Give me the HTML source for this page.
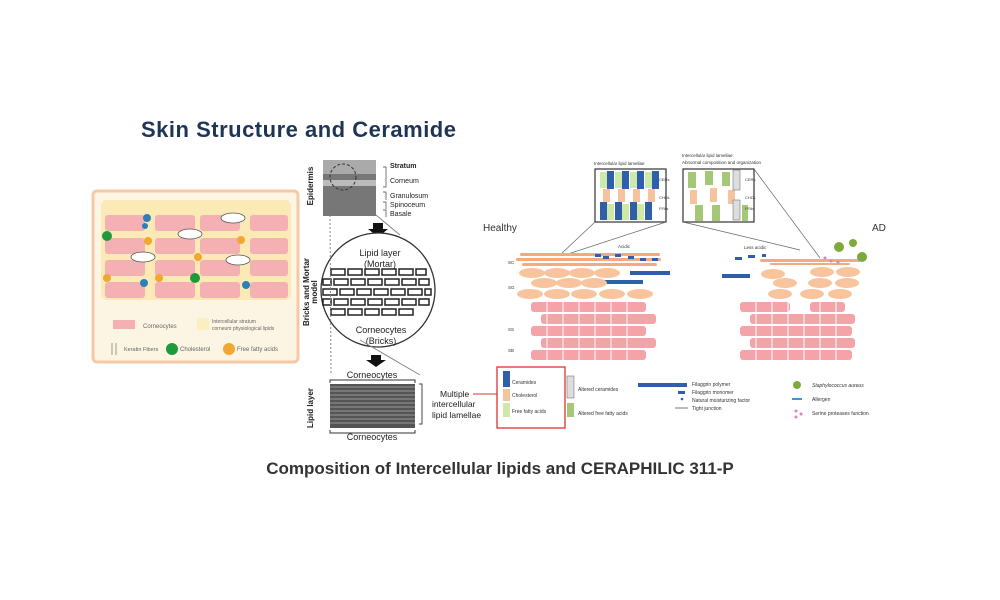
<!DOCTYPE html>
<html><head><meta charset="utf-8"><style>
html,body{margin:0;padding:0;background:#fff}
svg{display:block;font-family:"Liberation Sans",sans-serif}
</style></head><body>
<svg width="1000" height="600" viewBox="0 0 1000 600" xmlns="http://www.w3.org/2000/svg">
<rect width="1000" height="600" fill="#fff"/>
<text x="141" y="137" font-size="22" font-weight="bold" fill="#1f3558" letter-spacing="0.5">Skin Structure and Ceramide</text>
<text x="500" y="474" font-size="17" font-weight="bold" fill="#333" text-anchor="middle">Composition of Intercellular lipids and CERAPHILIC 311-P</text>

<!-- left panel -->
<rect x="93" y="191" width="205" height="171" rx="4" fill="#fdf5e4" stroke="#f6c9a4" stroke-width="3"/>
<rect x="101" y="200" width="190" height="100" rx="6" fill="#fbe9b6"/>
<g fill="#f4b0b3">
<rect x="105" y="215" width="40" height="16" rx="3"/><rect x="155" y="215" width="40" height="16" rx="3"/><rect x="200" y="215" width="40" height="16" rx="3"/><rect x="250" y="215" width="38" height="16" rx="3"/>
<rect x="105" y="238" width="40" height="16" rx="3"/><rect x="155" y="238" width="40" height="16" rx="3"/><rect x="200" y="238" width="40" height="16" rx="3"/><rect x="250" y="238" width="38" height="16" rx="3"/>
<rect x="105" y="260" width="40" height="16" rx="3"/><rect x="155" y="260" width="40" height="16" rx="3"/><rect x="200" y="260" width="40" height="16" rx="3"/><rect x="250" y="260" width="38" height="16" rx="3"/>
<rect x="105" y="282" width="40" height="16" rx="3"/><rect x="155" y="282" width="40" height="16" rx="3"/><rect x="200" y="282" width="40" height="16" rx="3"/><rect x="250" y="282" width="38" height="16" rx="3"/>
</g>
<g fill="#fff" stroke="#555" stroke-width=".8">
<ellipse cx="233" cy="218" rx="12" ry="5"/><ellipse cx="190" cy="234" rx="12" ry="5"/><ellipse cx="143" cy="257" rx="12" ry="5"/><ellipse cx="238" cy="260" rx="12" ry="5"/>
</g>
<g fill="#1e9a3a"><circle cx="107" cy="236" r="5"/><circle cx="195" cy="278" r="5"/></g>
<g fill="#f0a830"><circle cx="148" cy="241" r="4"/><circle cx="241" cy="240" r="4"/><circle cx="198" cy="257" r="4"/><circle cx="107" cy="278" r="4"/><circle cx="159" cy="278" r="4"/></g>
<g fill="#2d7fb8"><circle cx="147" cy="218" r="4"/><circle cx="145" cy="226" r="3"/><circle cx="144" cy="283" r="4"/><circle cx="246" cy="285" r="4"/></g>
<rect x="113" y="320" width="22" height="9" fill="#f4b0b3"/><text x="143" y="328" font-size="6" fill="#666">Corneocytes</text>
<rect x="197" y="318" width="12" height="12" fill="#fbeec0"/><text x="212" y="323" font-size="5" fill="#666">Intercellular stratum</text><text x="212" y="330" font-size="5" fill="#666">corneum physiological lipids</text>
<g stroke="#999"><line x1="112" y1="343" x2="112" y2="355"/><line x1="116" y1="343" x2="116" y2="355"/></g>
<text x="124" y="351" font-size="5.5" fill="#666">Keratin Fibers</text>
<circle cx="172" cy="349" r="6" fill="#1e9a3a"/><text x="180" y="351" font-size="6" fill="#666">Cholesterol</text>
<circle cx="229" cy="349" r="6" fill="#f0a830"/><text x="237" y="351" font-size="6" fill="#666">Free fatty acids</text>

<!-- middle -->
<rect x="323" y="160" width="53" height="56" fill="#777"/>
<rect x="323" y="160" width="53" height="14" fill="#aaa"/>
<rect x="323" y="180" width="53" height="6" fill="#bbb"/>
<ellipse cx="343" cy="177" rx="13" ry="13" fill="none" stroke="#333" stroke-dasharray="3,2"/>
<g font-size="7" fill="#222"><text x="390" y="168" font-weight="bold">Stratum</text><text x="390" y="183">Corneum</text><text x="390" y="198">Granulosum</text><text x="390" y="207">Spinoceum</text><text x="390" y="216">Basale</text></g>
<path d="M383 167h3v20h-3M383 192h3v8M383 202h3v7M383 210h3v7" fill="none" stroke="#444" stroke-width=".7"/>
<g font-size="8" font-weight="bold" fill="#222" text-anchor="middle">
<text transform="translate(313,186) rotate(-90)">Epidermis</text>
<text transform="translate(309,292) rotate(-90)">Bricks and Mortar</text>
<text transform="translate(317,292) rotate(-90)">model</text>
<text transform="translate(313,408) rotate(-90)">Lipid layer</text>
</g>
<path d="M373 223h10v6h5l-10 8-10-8h5z" fill="#111"/>
<circle cx="378" cy="290" r="57" fill="#fff" stroke="#333" stroke-width="1.3"/>
<g fill="#fff" stroke="#222" stroke-width="1.5" transform="translate(-4,-1)">
<rect x="335" y="270" width="14" height="6"/><rect x="352" y="270" width="14" height="6"/><rect x="369" y="270" width="14" height="6"/><rect x="386" y="270" width="14" height="6"/><rect x="403" y="270" width="14" height="6"/><rect x="420" y="270" width="10" height="6"/>
<rect x="327" y="280" width="8" height="6"/><rect x="338" y="280" width="14" height="6"/><rect x="355" y="280" width="14" height="6"/><rect x="372" y="280" width="14" height="6"/><rect x="389" y="280" width="14" height="6"/><rect x="406" y="280" width="14" height="6"/><rect x="423" y="280" width="10" height="6"/>
<rect x="327" y="290" width="14" height="6"/><rect x="344" y="290" width="14" height="6"/><rect x="361" y="290" width="14" height="6"/><rect x="378" y="290" width="14" height="6"/><rect x="395" y="290" width="14" height="6"/><rect x="412" y="290" width="14" height="6"/><rect x="429" y="290" width="6" height="6"/>
<rect x="327" y="300" width="8" height="6"/><rect x="338" y="300" width="14" height="6"/><rect x="355" y="300" width="14" height="6"/><rect x="372" y="300" width="14" height="6"/><rect x="389" y="300" width="14" height="6"/><rect x="406" y="300" width="14" height="6"/><rect x="423" y="300" width="10" height="6"/>
<rect x="335" y="310" width="14" height="6"/><rect x="352" y="310" width="14" height="6"/><rect x="369" y="310" width="14" height="6"/><rect x="386" y="310" width="14" height="6"/><rect x="403" y="310" width="14" height="6"/>
</g>
<g font-size="9" fill="#222" text-anchor="middle"><text x="380" y="256">Lipid layer</text><text x="380" y="267">(Mortar)</text><text x="381" y="333">Corneocytes</text><text x="381" y="344">(Bricks)</text></g>
<path d="M371 355h10v5h5l-10 7-10-7h5z" fill="#111"/>
<line x1="330" y1="215" x2="331" y2="375" stroke="#888" stroke-dasharray="2,2"/>
<line x1="376" y1="215" x2="400" y2="235" stroke="#888"/>
<line x1="360" y1="340" x2="420" y2="375" stroke="#888"/>
<text x="372" y="378" font-size="9" fill="#222" text-anchor="middle">Corneocytes</text>
<path d="M330 383v-3h85v3" fill="none" stroke="#333"/>
<rect x="330" y="384" width="85" height="44" fill="#555"/>
<g stroke="#ddd" stroke-width=".6"><line x1="330" y1="387" x2="415" y2="387"/><line x1="330" y1="391" x2="415" y2="391"/><line x1="330" y1="395" x2="415" y2="395"/><line x1="330" y1="399" x2="415" y2="399"/><line x1="330" y1="403" x2="415" y2="403"/><line x1="330" y1="407" x2="415" y2="407"/><line x1="330" y1="411" x2="415" y2="411"/><line x1="330" y1="415" x2="415" y2="415"/><line x1="330" y1="419" x2="415" y2="419"/><line x1="330" y1="423" x2="415" y2="423"/></g>
<path d="M330 430v3h85v-3" fill="none" stroke="#333"/>
<text x="372" y="440" font-size="9" fill="#222" text-anchor="middle">Corneocytes</text>
<path d="M419 384h3v40h-3" fill="none" stroke="#444"/>
<g font-size="8.5" fill="#222"><text x="440" y="397">Multiple</text><text x="432" y="407">intercellular</text><text x="432" y="418">lipid lamellae</text></g>
<line x1="473" y1="394" x2="497" y2="394" stroke="#d33"/>

<!-- right -->
<text x="483" y="231" font-size="10" fill="#333">Healthy</text>
<text x="872" y="231" font-size="10" fill="#333">AD</text>
<text x="594" y="165" font-size="4.5" fill="#333">Intercellular lipid lamellae</text>
<text x="682" y="157" font-size="4.5" fill="#333">Intercellular lipid lamellae:</text>
<text x="682" y="164" font-size="4.5" fill="#333">Abnormal composition and organization</text>
<rect x="595" y="169" width="71" height="53" fill="#fff" stroke="#333" stroke-width="1.2"/>
<g fill="#cde8a8"><rect x="600" y="172" width="7" height="16"/><rect x="615" y="172" width="7" height="16"/><rect x="630" y="172" width="7" height="16"/><rect x="645" y="172" width="7" height="16"/><rect x="607" y="204" width="7" height="16"/><rect x="622" y="204" width="7" height="16"/><rect x="637" y="204" width="7" height="16"/></g>
<g fill="#2f5fa8"><rect x="607" y="171" width="7" height="18"/><rect x="622" y="171" width="7" height="18"/><rect x="637" y="171" width="7" height="18"/><rect x="652" y="171" width="7" height="18"/><rect x="600" y="202" width="7" height="18"/><rect x="615" y="202" width="7" height="18"/><rect x="630" y="202" width="7" height="18"/><rect x="645" y="202" width="7" height="18"/></g>
<g fill="#f6c49c"><rect x="603" y="189" width="7" height="13"/><rect x="618" y="189" width="7" height="13"/><rect x="633" y="189" width="7" height="13"/><rect x="648" y="189" width="7" height="13"/></g>
<g font-size="4" fill="#333"><text x="659" y="181">CERs</text><text x="659" y="199">CHOL</text><text x="659" y="210">FFAs</text></g>
<rect x="683" y="169" width="71" height="53" fill="#fff" stroke="#333" stroke-width="1.2"/>
<g fill="#a4c878"><rect x="688" y="172" width="8" height="16"/><rect x="705" y="171" width="8" height="14"/><rect x="722" y="172" width="8" height="14"/><rect x="695" y="205" width="8" height="16"/><rect x="712" y="205" width="8" height="16"/><rect x="742" y="205" width="6" height="16"/></g>
<g fill="#f6c49c"><rect x="690" y="190" width="7" height="14"/><rect x="710" y="188" width="7" height="14"/><rect x="728" y="190" width="7" height="14"/></g>
<g fill="#ddd" stroke="#777" stroke-width=".6"><rect x="733" y="170" width="7" height="20"/><rect x="733" y="200" width="7" height="20"/></g>
<g font-size="4" fill="#333"><text x="745" y="181">CERs</text><text x="745" y="199">CHOL</text><text x="745" y="210">FFAs</text></g>
<g stroke="#666" stroke-width=".7"><line x1="595" y1="222" x2="560" y2="255"/><line x1="666" y1="222" x2="565" y2="255"/><line x1="683" y1="222" x2="800" y2="250"/><line x1="754" y1="169" x2="820" y2="258"/></g>
<g font-size="4.5" fill="#333"><text x="508" y="264">SC</text><text x="508" y="289">SG</text><text x="508" y="331">SS</text><text x="508" y="352">SB</text><text x="618" y="248">Acidic</text><text x="744" y="249">Less acidic</text></g>
<g fill="#f4a97f"><rect x="520" y="253" width="140" height="3" rx="1.5"/><rect x="516" y="258" width="145" height="3" rx="1.5"/><rect x="522" y="263" width="135" height="3" rx="1.5"/></g>
<g fill="#2f5fa8"><rect x="595" y="254" width="6" height="3"/><rect x="603" y="256" width="6" height="3"/><rect x="615" y="254" width="6" height="3"/><rect x="628" y="256" width="6" height="3"/><rect x="640" y="258" width="6" height="3"/><rect x="652" y="258" width="6" height="3"/><rect x="630" y="271" width="40" height="4"/><rect x="603" y="280" width="40" height="4"/></g>
<g fill="#f7c49d"><ellipse cx="532" cy="273" rx="13" ry="5"/><ellipse cx="557" cy="273" rx="13" ry="5"/><ellipse cx="582" cy="273" rx="13" ry="5"/><ellipse cx="607" cy="273" rx="13" ry="5"/><ellipse cx="544" cy="283" rx="13" ry="5"/><ellipse cx="569" cy="283" rx="13" ry="5"/><ellipse cx="594" cy="283" rx="13" ry="5"/><ellipse cx="530" cy="294" rx="13" ry="5"/><ellipse cx="557" cy="294" rx="13" ry="5"/><ellipse cx="584" cy="294" rx="13" ry="5"/><ellipse cx="612" cy="294" rx="13" ry="5"/><ellipse cx="640" cy="294" rx="13" ry="5"/></g>
<g fill="#f4a3a8">
<rect x="531" y="302" width="115" height="10" rx="3"/><rect x="541" y="314" width="115" height="10" rx="3"/><rect x="531" y="326" width="115" height="10" rx="3"/><rect x="541" y="338" width="115" height="10" rx="3"/><rect x="531" y="350" width="115" height="10" rx="3"/>
<rect x="740" y="302" width="50" height="10" rx="3"/><rect x="810" y="302" width="35" height="10" rx="3"/><rect x="750" y="314" width="105" height="10" rx="3"/><rect x="740" y="326" width="112" height="10" rx="3"/><rect x="750" y="338" width="105" height="10" rx="3"/><rect x="740" y="350" width="112" height="10" rx="3"/>
</g>
<g stroke="#fff" stroke-width="1"><path d="M547 302v58M563 302v58M579 302v58M595 302v58M611 302v58M627 302v58M756 302v58M772 302v58M788 302v58M804 302v58M820 302v58M836 302v58"/></g>
<g fill="#f4a97f"><rect x="760" y="259" width="100" height="3" rx="1.5"/><rect x="770" y="263" width="80" height="2" rx="1"/></g>
<g fill="#2f5fa8"><rect x="735" y="257" width="7" height="3"/><rect x="748" y="255" width="7" height="3"/><rect x="762" y="254" width="4" height="3"/><rect x="722" y="274" width="28" height="4"/></g>
<g fill="#f7c49d"><ellipse cx="773" cy="274" rx="12" ry="5"/><ellipse cx="822" cy="272" rx="12" ry="5"/><ellipse cx="848" cy="272" rx="12" ry="5"/><ellipse cx="785" cy="283" rx="12" ry="5"/><ellipse cx="820" cy="283" rx="12" ry="5"/><ellipse cx="847" cy="283" rx="12" ry="5"/><ellipse cx="780" cy="294" rx="12" ry="5"/><ellipse cx="812" cy="294" rx="12" ry="5"/><ellipse cx="840" cy="294" rx="12" ry="5"/></g>
<g fill="#7faa3a"><circle cx="839" cy="247" r="5"/><circle cx="853" cy="243" r="4"/><circle cx="862" cy="257" r="5"/></g>
<g fill="#e080c0"><circle cx="825" cy="258" r="1.5"/><circle cx="831" cy="261" r="1.5"/><circle cx="838" cy="262" r="1.5"/></g>
<rect x="497" y="367" width="68" height="61" fill="#fff" stroke="#d33" stroke-width="1.3"/>
<rect x="503" y="371" width="7" height="16" fill="#2f5fa8"/><rect x="503" y="389" width="7" height="12" fill="#f6c49c"/><rect x="503" y="403" width="7" height="14" fill="#cde8a8"/>
<g font-size="5" fill="#333"><text x="512" y="384">Ceramides</text><text x="512" y="397">Cholesterol</text><text x="512" y="413">Free fatty acids</text>
<text x="578" y="391">Altered ceramides</text><text x="578" y="415">Altered free fatty acids</text>
<text x="692" y="386">Filaggrin polymer</text><text x="692" y="394">Filaggrin monomer</text><text x="692" y="402">Natural moisturizing factor</text><text x="692" y="410">Tight junction</text>
<text x="812" y="387" font-style="italic">Staphylococcus aureus</text><text x="812" y="401">Allergen</text><text x="812" y="415">Serine proteases function</text></g>
<rect x="567" y="376" width="7" height="22" fill="#ddd" stroke="#777" stroke-width=".6"/><rect x="567" y="403" width="7" height="14" fill="#a4c878"/>
<rect x="638" y="383" width="49" height="4" fill="#2f5fa8"/><rect x="678" y="391" width="7" height="3" fill="#2f5fa8"/><circle cx="682" cy="399" r="1.3" fill="#2f5fa8"/><line x1="675" y1="408" x2="688" y2="408" stroke="#777"/>
<circle cx="797" cy="385" r="4" fill="#7faa3a"/><rect x="792" y="398" width="10" height="2" fill="#3a9ad8"/>
<g fill="#e080c0"><circle cx="796" cy="411" r="1.5"/><circle cx="801" cy="414" r="1.5"/><circle cx="796" cy="417" r="1.5"/></g>
</svg>
</body></html>
